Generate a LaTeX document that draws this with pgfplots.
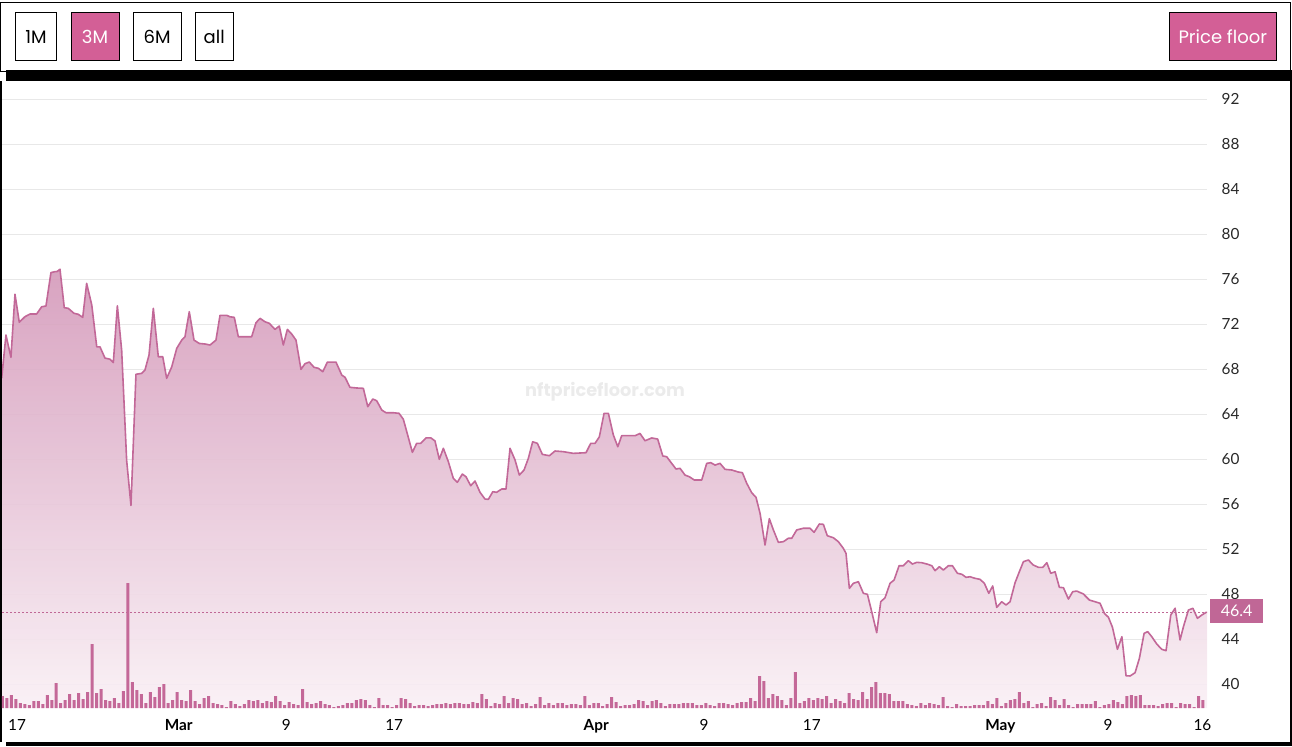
\documentclass[border=0pt]{standalone}
\usepackage{pgfplots}
\pgfplotsset{compat=1.18}
\usepackage{pgfplotstable}
\usepackage{fontspec}
\setmainfont{Lato}
\newfontfamily\pop{Poppins}

\definecolor{pinkbtn}{RGB}{211,95,150}
\definecolor{linec}{RGB}{194,104,152}
\definecolor{barc}{RGB}{196,104,152}
\definecolor{tagc}{RGB}{192,103,150}
\definecolor{filltop}{RGB}{213,155,187}
\definecolor{fillbot}{RGB}{249,240,245}
\definecolor{gridc}{RGB}{232,232,232}
\definecolor{wm}{RGB}{235,235,235}
\definecolor{labc}{RGB}{40,40,40}

% floor price, x = days since Feb 17
\pgfplotstableread{
d v
-1.14 67.20
-0.82 71.05
-0.45 69.07
-0.15 74.67
0.17 72.18
0.59 72.68
0.97 72.92
1.46 72.92
1.83 73.56
2.15 73.63
2.52 76.60
2.82 76.68
2.99 76.70
3.19 76.90
3.51 73.48
3.81 73.42
4.23 72.98
4.55 72.89
4.88 72.62
5.17 75.64
5.55 73.72
5.92 70.00
6.16 70.00
6.53 69.00
6.90 68.90
7.15 68.60
7.45 73.65
7.77 69.70
8.14 59.90
8.46 55.90
8.83 67.56
9.26 67.64
9.50 67.94
9.80 69.27
10.12 73.42
10.49 69.12
10.82 69.12
11.11 67.20
11.48 68.20
11.86 69.87
12.23 70.60
12.47 70.90
12.79 73.12
13.14 70.60
13.53 70.30
13.96 70.25
14.33 70.16
14.77 70.60
15.07 72.80
15.57 72.80
15.81 72.67
16.13 72.62
16.43 70.90
16.93 70.90
17.42 70.90
17.74 72.14
18.04 72.53
18.41 72.23
18.73 72.09
19.15 71.55
19.47 71.85
19.77 70.16
20.07 71.55
20.39 71.14
20.71 70.60
21.08 68.00
21.38 68.50
21.70 68.65
22.05 68.18
22.37 68.09
22.70 67.79
23.04 68.64
23.68 68.64
24.11 67.49
24.35 67.29
24.72 66.40
25.22 66.34
25.71 66.31
26.04 64.68
26.41 65.36
26.70 65.21
27.08 64.38
27.39 64.14
27.94 64.14
28.36 64.09
28.68 63.56
28.98 62.25
29.35 60.62
29.67 61.42
29.97 61.42
30.36 61.90
30.73 61.90
31.03 61.63
31.35 60.00
31.65 60.98
32.02 59.79
32.39 58.31
32.69 57.96
33.06 58.69
33.33 58.45
33.68 57.65
34.00 58.07
34.37 57.07
34.74 56.47
34.99 56.44
35.32 57.12
35.61 57.07
35.98 57.36
36.30 57.36
36.60 60.98
36.97 59.94
37.29 58.60
37.64 59.05
37.96 60.09
38.28 61.56
38.63 61.42
39.00 60.44
39.52 60.32
39.94 60.74
40.56 60.68
41.30 60.53
42.24 60.59
42.59 61.42
42.91 61.42
43.23 62.00
43.58 64.09
43.90 64.09
44.27 62.16
44.60 61.12
44.89 62.10
45.88 62.10
46.25 62.30
46.62 61.65
47.12 61.90
47.56 61.80
47.94 60.30
48.23 60.23
48.60 59.64
48.92 59.14
49.22 59.20
49.59 58.60
49.91 58.45
50.28 58.16
50.83 58.16
51.20 59.64
51.50 59.70
51.82 59.49
52.19 59.64
52.56 59.11
53.06 59.05
53.55 58.87
53.85 58.81
54.17 57.87
54.54 57.03
54.86 56.62
55.16 55.20
55.53 52.38
55.85 54.72
56.15 53.72
56.52 52.62
56.89 52.68
57.26 52.98
57.51 52.98
57.88 53.72
58.37 53.87
58.87 53.87
59.17 53.51
59.56 54.25
59.86 54.22
60.15 53.21
60.60 53.03
60.97 52.68
61.34 52.09
61.54 51.64
61.79 48.53
62.09 48.98
62.46 49.12
62.83 48.09
63.13 48.00
63.45 46.45
63.82 44.59
64.12 47.34
64.44 47.70
64.81 48.98
65.11 49.27
65.48 50.54
65.80 50.54
66.17 50.99
66.47 50.69
66.79 50.84
67.16 50.81
67.61 50.67
67.91 50.54
68.15 50.10
68.47 50.45
68.77 50.16
69.14 50.54
69.44 50.54
69.81 49.87
70.14 49.78
70.45 49.51
70.75 49.56
71.12 49.42
71.49 49.33
71.81 48.98
72.14 48.09
72.43 48.74
72.73 46.84
73.10 47.34
73.42 47.05
73.72 47.34
74.09 49.03
74.41 50.01
74.71 50.90
75.08 51.05
75.45 50.60
75.82 50.40
76.15 50.40
76.45 50.81
76.74 49.87
77.06 50.00
77.38 48.62
77.68 48.59
78.05 47.58
78.37 48.23
78.67 48.29
79.16 48.03
79.61 47.49
80.03 47.34
80.40 47.20
80.72 46.31
81.02 45.96
81.32 45.07
81.69 43.11
82.02 44.23
82.33 40.76
82.63 40.74
83.00 41.03
83.32 42.31
83.67 44.53
83.94 44.68
84.24 44.23
84.61 43.58
84.98 43.11
85.30 42.99
85.65 46.16
85.97 46.76
86.34 43.94
86.59 45.12
86.96 46.60
87.29 46.76
87.63 45.87
87.96 46.16
88.28 46.40
88.40 46.40
}\floor

% volume, one bar every 8 hours (arbitrary units)
\pgfplotstableread[row sep=\\]{
h\\12\\10\\13\\9\\5\\4\\3\\7\\7\\4\\13\\8\\25\\5\\8\\14\\8\\15\\9\\16\\64\\15\\19\\8\\7\\10\\5\\17\\125\\26\\
18\\14\\5\\16\\11\\21\\24\\5\\8\\16\\8\\7\\18\\7\\4\\10\\12\\5\\4\\3\\1\\7\\4\\2\\4\\8\\7\\8\\5\\7\\
6\\12\\7\\3\\6\\4\\3\\19\\6\\4\\
5\\7\\4\\3\\1\\2\\3\\5\\5\\8\\9\\8\\3\\1\\10\\3\\3\\1\\3\\10\\9\\5\\2\\3\\3\\2\\3\\4\\4\\5\\
4\\5\\5\\4\\4\\6\\5\\14\\9\\2\\5\\4\\12\\5\\10\\9\\4\\5\\2\\4\\11\\3\\5\\3\\5\\5\\3\\4\\4\\3\\
12\\3\\5\\5\\2\\4\\
11\\6\\2\\3\\3\\4\\8\\7\\3\\7\\8\\5\\2\\4\\4\\4\\5\\5\\5\\3\\3\\5\\3\\2\\5\\5\\4\\3\\5\\6\\
6\\10\\7\\32\\27\\10\\14\\12\\8\\3\\10\\36\\5\\7\\10\\8\\10\\9\\12\\5\\9\\7\\5\\15\\9\\8\\16\\9\\21\\26\\
15\\15\\14\\7\\7\\7\\4\\
3\\2\\5\\3\\5\\4\\3\\11\\2\\1\\4\\2\\2\\2\\3\\3\\3\\7\\4\\10\\2\\5\\8\\9\\16\\5\\7\\1\\4\\5\\
2\\11\\8\\3\\9\\3\\1\\4\\4\\4\\4\\7\\1\\3\\4\\8\\6\\4\\12\\13\\12\\13\\3\\3\\3\\2\\4\\5\\5\\1\\
5\\4\\4\\1\\12\\8\\
}\vol

\begin{document}
\begin{tikzpicture}
\begin{scope}[x=0.75pt,y=0.75pt]
\useasboundingbox (0,0) rectangle (1292,-746);

% top bar with buttons
\draw[line width=0.75pt] (0.5,-2.2) rectangle (1290.5,-71);
\fill (6,-70) rectangle (1292,-81);
\fill (0,-81) rectangle (2,-741.5);
\fill (1290,-81) rectangle (1292,-746);
\fill (6,-741.5) rectangle (1292,-746);

\begin{scope}[line width=0.75pt, font=\pop\fontsize{13.5}{15}\selectfont]
\draw[fill=white] (15,-12.3) rectangle (56.7,-60.7);
\node at (35.9,-36.5) {1M};
\draw[fill=pinkbtn] (71,-12.3) rectangle (119,-60.7);
\node[text=white] at (95,-36.5) {3M};
\draw[fill=white] (133.3,-12.3) rectangle (181,-60.7);
\node at (157.2,-36.5) {6M};
\draw[fill=white] (195,-12.3) rectangle (233.3,-60.7);
\node at (214.2,-36.5) {all};
\draw[fill=pinkbtn] (1169,-12.3) rectangle (1276.7,-60.7);
\node[text=white] at (1222.8,-36.5) {Price floor};
\end{scope}

% watermark
\node[text=wm, font=\pop\bfseries\fontsize{13.3}{15}\selectfont] at (605,-392) {nftpricefloor.com};
\end{scope}

\begin{axis}[
  at={(1.5pt,-531pt)}, anchor=south west,
  scale only axis, width=903.75pt, height=470.25pt,
  xmin=-1.114, xmax=88.34, ymin=37.893, ymax=93.63,
  separate axis lines,
  axis line style={draw=none},
  major tick length=0pt,
  yticklabel pos=right,
  ytick={40,44,48,52,56,60,64,68,72,76,80,84,88,92},
  yticklabels={40,44,48,52,56,60,64,68,72,76,80,84,88,92},
  yticklabel style={font=\fontsize{11.5}{13}\selectfont, text=labc, anchor=west, xshift=7.5pt},
  xtick={0,12,20,28,43,51,59,73,81,88},
  xticklabels={17,\textbf{Mar},9,17,\textbf{Apr},9,17,\textbf{May},9,16},
  xticklabel style={font=\fontsize{11.5}{13}\selectfont, text=black, yshift=-5pt},
  ymajorgrids, grid style={gridc, line width=0.75pt},
]
\addplot[draw=none, top color=filltop, bottom color=fillbot, fill opacity=0.92] table[x=d, y=v] {\floor} \closedcycle;
\addplot[linec, line width=1.2pt, line join=round] table[x=d, y=v] {\floor};
\draw[tagc, line width=0.75pt, dash pattern=on 1.5pt off 1.5pt] (axis cs:-1.114,46.4) -- (axis cs:88.34,46.4);
\end{axis}

\begin{axis}[
  at={(1.5pt,-531pt)}, anchor=south west,
  scale only axis, width=903.75pt, height=470.25pt,
  xmin=-0.11, xmax=268.9, ymin=0, ymax=627,
  hide axis,
]
\addplot[ybar, bar width=0.67, bar shift=0pt, fill=barc, draw=none] table[x expr=\coordindex, y=h] {\vol};
\end{axis}

% last value tag
\begin{scope}[x=0.75pt,y=0.75pt]
\fill[tagc] (1210,-599) rectangle (1263.3,-623.3);
\node[text=white, font=\fontsize{12}{13}\selectfont] at (1236.7,-611.2) {46.4};
\end{scope}
\end{tikzpicture}
\end{document}
